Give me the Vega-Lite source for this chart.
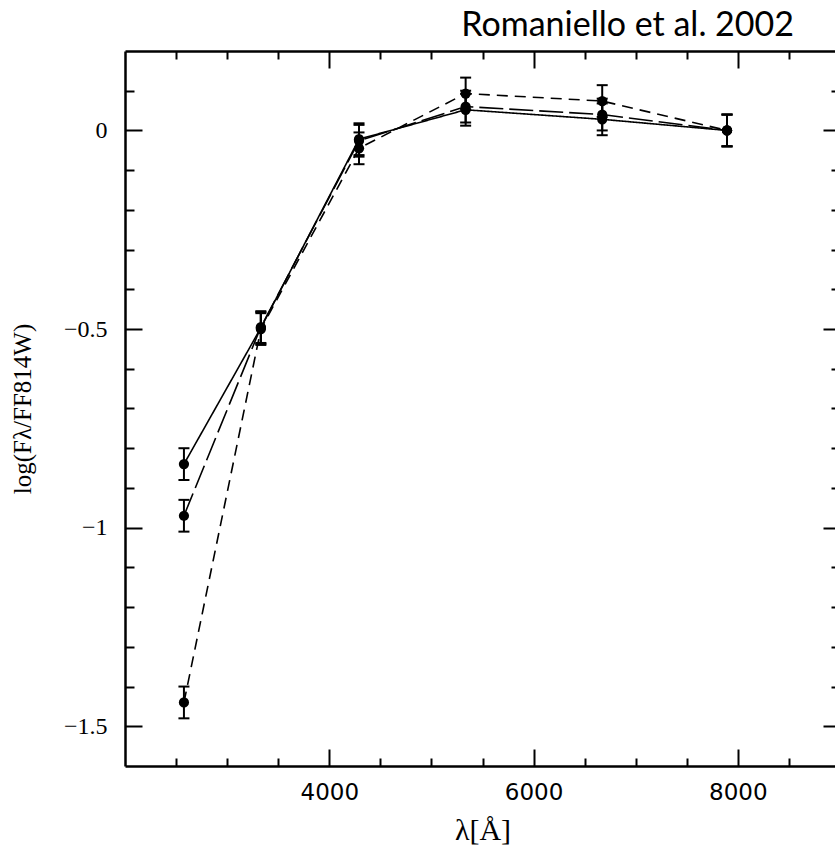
{
  "$schema": "https://vega.github.io/schema/vega-lite/v6.json",
  "autosize": {"type": "none"},
  "padding": {"left": 125, "top": 51, "right": 0, "bottom": 83},
  "width": 715,
  "height": 715,
  "background": "white",
  "config": {"view": {"stroke": null}},
  "title": {"text": "Romaniello et al. 2002", "font": "Lato", "fontSize": 34, "fontWeight": "normal", "color": "black", "anchor": "end", "dx": -46, "offset": -20, "baseline": "alphabetic", "frame": "group"},
  "data": {"values": [
    {"series": "solid", "wl": 2577, "val": -0.84, "lo": -0.88, "hi": -0.80},
    {"series": "solid", "wl": 3330, "val": -0.497, "lo": -0.537, "hi": -0.457},
    {"series": "solid", "wl": 4291, "val": -0.022, "lo": -0.062, "hi": 0.018},
    {"series": "solid", "wl": 5335, "val": 0.052, "lo": 0.012, "hi": 0.092},
    {"series": "solid", "wl": 6672, "val": 0.028, "lo": -0.012, "hi": 0.068},
    {"series": "solid", "wl": 7894, "val": 0.0, "lo": -0.04, "hi": 0.04},
    {"series": "long", "wl": 2577, "val": -0.97, "lo": -1.01, "hi": -0.93},
    {"series": "long", "wl": 3330, "val": -0.495, "lo": -0.535, "hi": -0.455},
    {"series": "long", "wl": 4291, "val": -0.026, "lo": -0.066, "hi": 0.014},
    {"series": "long", "wl": 5335, "val": 0.06, "lo": 0.02, "hi": 0.10},
    {"series": "long", "wl": 6672, "val": 0.04, "lo": 0.0, "hi": 0.08},
    {"series": "long", "wl": 7894, "val": 0.0, "lo": -0.04, "hi": 0.04},
    {"series": "short", "wl": 2577, "val": -1.44, "lo": -1.48, "hi": -1.40},
    {"series": "short", "wl": 3330, "val": -0.50, "lo": -0.54, "hi": -0.46},
    {"series": "short", "wl": 4291, "val": -0.045, "lo": -0.085, "hi": -0.005},
    {"series": "short", "wl": 5335, "val": 0.093, "lo": 0.053, "hi": 0.133},
    {"series": "short", "wl": 6672, "val": 0.074, "lo": 0.034, "hi": 0.114},
    {"series": "short", "wl": 7894, "val": 0.0, "lo": -0.04, "hi": 0.04}
  ]},
  "resolve": {"axis": {"x": "independent", "y": "independent"}},
  "layer": [
    {
      "mark": {"type": "line", "color": "black", "strokeWidth": 1.6},
      "encoding": {
        "x": {"field": "wl", "type": "quantitative",
          "scale": {"domain": [2000, 9000], "nice": false, "zero": false},
          "axis": {"orient": "bottom", "grid": false,
            "values": [2500, 3000, 3500, 4000, 4500, 5000, 5500, 6000, 6500, 7000, 7500, 8000, 8500],
            "tickSize": {"expr": "datum.value % 2000 === 0 ? -17 : -8"},
            "labelExpr": "datum.value % 2000 === 0 ? datum.label : ''",
            "format": "d", "labelPadding": 32, "labelFont": "DejaVu Sans", "labelFontSize": 23, "labelColor": "black",
            "labelFlush": false, "labelOverlap": false,
            "tickColor": "black", "tickWidth": 2, "domainColor": "black", "domainWidth": 2.5,
            "title": "λ[Å]", "titleFont": "Liberation Serif", "titleFontSize": 30, "titleFontWeight": "normal", "titleColor": "black", "titlePadding": 2}},
        "y": {"field": "val", "type": "quantitative",
          "scale": {"domain": [-1.6, 0.2], "nice": false, "zero": false},
          "axis": {"orient": "left", "grid": false,
            "values": [-1.5, -1.4, -1.3, -1.2, -1.1, -1.0, -0.9, -0.8, -0.7, -0.6, -0.5, -0.4, -0.3, -0.2, -0.1, 0, 0.1],
            "tickSize": {"expr": "abs(datum.value*2 - round(datum.value*2)) < 0.000001 ? -17 : -9"},
            "labelExpr": "abs(datum.value*2 - round(datum.value*2)) < 0.000001 ? datum.label : ''",
            "format": "~g", "labelPadding": 35, "labelFont": "Liberation Serif", "labelFontSize": 24, "labelColor": "black",
            "labelFlush": false, "labelOverlap": false,
            "tickColor": "black", "tickWidth": 2, "domainColor": "black", "domainWidth": 2.5,
            "title": "log(Fλ/FF814W)", "titleFont": "Liberation Serif", "titleFontSize": 25, "titleFontWeight": "normal", "titleColor": "black", "titlePadding": 28}},
        "strokeDash": {"field": "series", "type": "nominal",
          "scale": {"domain": ["solid", "long", "short"], "range": [[1, 0], [24, 6], [11, 7]]},
          "legend": null}
      }
    },
    {
      "mark": {"type": "rule", "color": "black", "strokeWidth": 2},
      "encoding": {
        "x": {"field": "wl", "type": "quantitative",
          "axis": {"orient": "top", "grid": false, "labels": false, "title": null,
            "values": [2500, 3000, 3500, 4000, 4500, 5000, 5500, 6000, 6500, 7000, 7500, 8000, 8500],
            "tickSize": {"expr": "datum.value % 2000 === 0 ? -17 : -8"},
            "tickColor": "black", "tickWidth": 2, "domainColor": "black", "domainWidth": 2.5}},
        "y": {"field": "lo", "type": "quantitative",
          "axis": {"orient": "right", "grid": false, "labels": false, "title": null,
            "values": [-1.5, -1.4, -1.3, -1.2, -1.1, -1.0, -0.9, -0.8, -0.7, -0.6, -0.5, -0.4, -0.3, -0.2, -0.1, 0, 0.1],
            "tickSize": {"expr": "abs(datum.value*2 - round(datum.value*2)) < 0.000001 ? -17 : -9"},
            "tickColor": "black", "tickWidth": 2, "domainColor": "black", "domainWidth": 2.5}},
        "y2": {"field": "hi"}
      }
    },
    {
      "mark": {"type": "tick", "color": "black", "orient": "horizontal", "size": 11, "thickness": 2, "opacity": 1},
      "encoding": {
        "x": {"field": "wl", "type": "quantitative", "axis": null},
        "y": {"field": "lo", "type": "quantitative", "axis": null}
      }
    },
    {
      "mark": {"type": "tick", "color": "black", "orient": "horizontal", "size": 11, "thickness": 2, "opacity": 1},
      "encoding": {
        "x": {"field": "wl", "type": "quantitative", "axis": null},
        "y": {"field": "hi", "type": "quantitative", "axis": null}
      }
    },
    {
      "mark": {"type": "circle", "color": "black", "opacity": 1, "size": 105},
      "encoding": {
        "x": {"field": "wl", "type": "quantitative", "axis": null},
        "y": {"field": "val", "type": "quantitative", "axis": null}
      }
    }
  ]
}
